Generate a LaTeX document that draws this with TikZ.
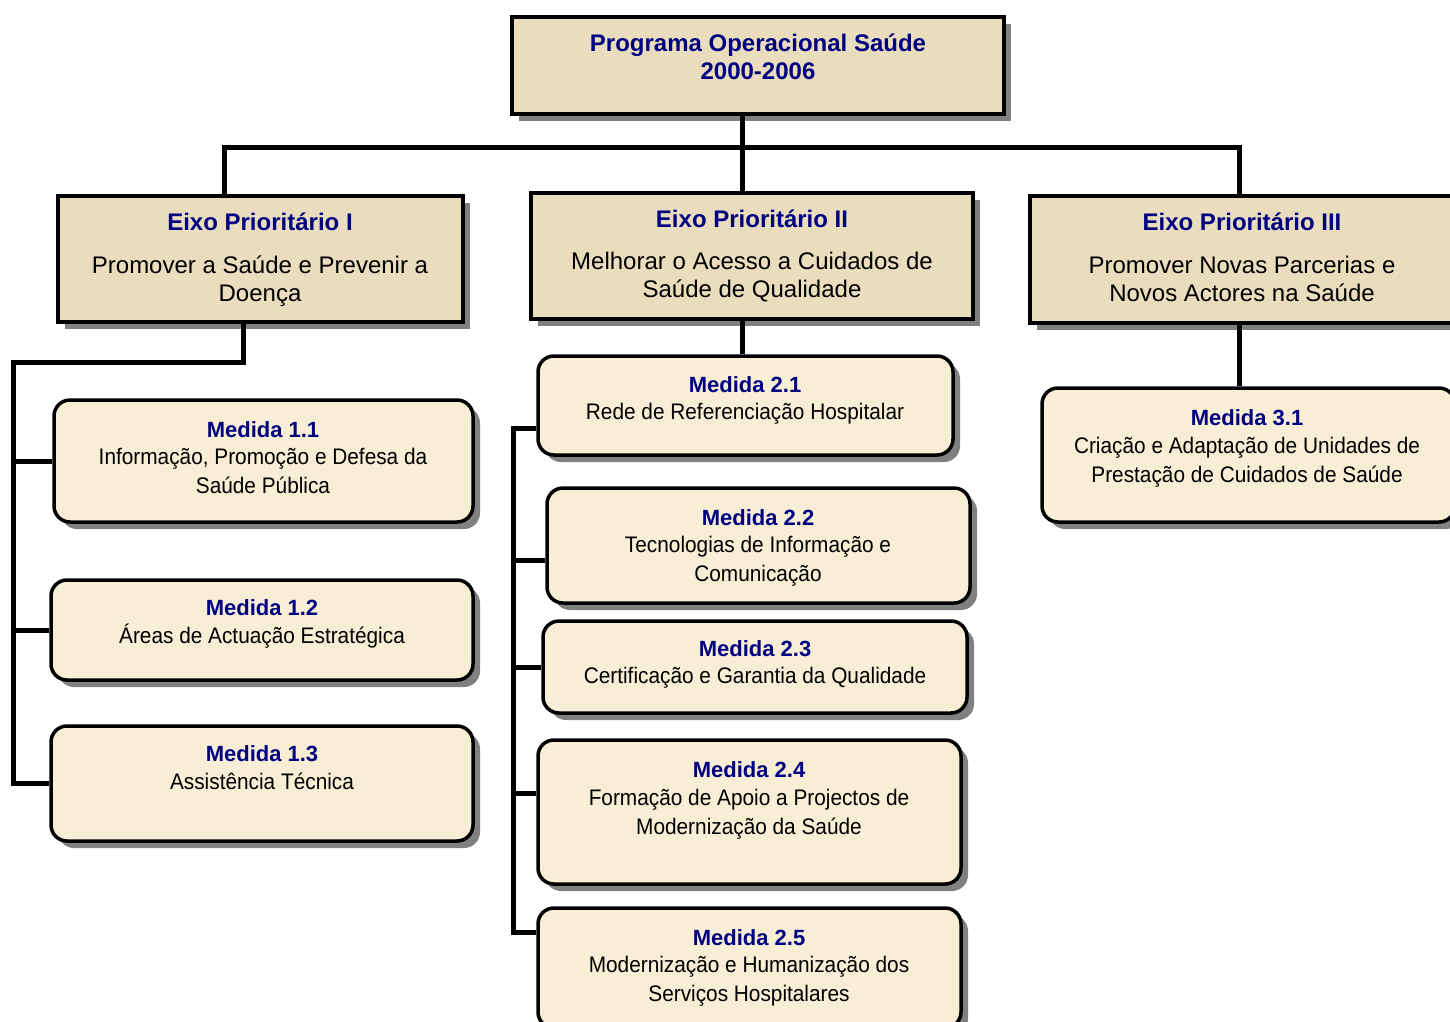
\documentclass[tikz,border=0pt]{standalone}
\usepackage{fontspec}
\setmainfont{Liberation Sans}
\newfontfamily\narrowf[FakeStretch=0.925]{Liberation Sans}
\usetikzlibrary{shadows}
\definecolor{navy}{RGB}{0,0,128}
\definecolor{parch}{RGB}{234,221,189}
\definecolor{parchl}{RGB}{248,238,214}
\begin{document}
\begin{tikzpicture}[x=1pt,y=-1pt,
  ebox/.style={draw, line width=3.5pt, fill=parch, inner sep=0pt,
    drop shadow={shadow xshift=7pt, shadow yshift=-7pt, fill=black!50, opacity=1}},
  mbox/.style={ebox, fill=parchl, rounded corners=16pt},
  conn/.style={line width=5pt},
  ttl/.style={font=\bfseries\fontsize{24}{28}\selectfont, text=navy, align=center, inner sep=0pt, anchor=base},
  ebody/.style={font=\fontsize{24}{28}\selectfont, align=center, inner sep=0pt, anchor=base},
  mtl/.style={font=\bfseries\fontsize{22}{28}\selectfont, text=navy, inner sep=0pt, anchor=base},
  mbody/.style={font=\narrowf\fontsize{22.5}{28.5}\selectfont, align=center, inner sep=0pt, anchor=base}]
\useasboundingbox[fill=white] (0,0) rectangle (1450,1021);

% junction coordinates
\coordinate (j0) at (742,147);
\coordinate (jl) at (224,147);
\coordinate (jr) at (1239,147);
\coordinate (k1) at (243,362);
\coordinate (k1l) at (13,362);
\coordinate (b21) at (513,428);
\coordinate (b22) at (513,560);
\coordinate (b23) at (513,667);
\coordinate (b24) at (513,793);
\coordinate (b25) at (513,932);

% boxes
\node[ebox, minimum width=492pt, minimum height=97pt] (top) at (758,65.5) {};
\node[ebox, minimum width=405pt, minimum height=126pt] (e1) at (260.5,259) {};
\node[ebox, minimum width=442pt, minimum height=126pt] (e2) at (752,256) {};
\node[ebox, minimum width=425pt, minimum height=127pt] (e3) at (1242.5,259.5) {};

\node[mbox, minimum width=419pt, minimum height=122pt] (m11) at (263.5,461) {};
\node[mbox, minimum width=422pt, minimum height=100pt] (m12) at (262,630) {};
\node[mbox, minimum width=422pt, minimum height=115pt] (m13) at (262,783.5) {};
\node[mbox, minimum width=415pt, minimum height=99pt] (m21) at (745.5,405.5) {};
\node[mbox, minimum width=423pt, minimum height=115pt] (m22) at (758.5,545.5) {};
\node[mbox, minimum width=424pt, minimum height=92pt] (m23) at (755,667) {};
\node[mbox, minimum width=423pt, minimum height=144pt] (m24) at (749.5,812) {};
\node[mbox, minimum width=423pt, minimum height=120pt] (m25) at (749.5,968) {};
\node[mbox, minimum width=413pt, minimum height=134pt] (m31) at (1248.5,455) {};

% connectors
\draw[conn] (top.south -| j0) -- (j0);
\draw[conn] (e1.north -| jl) -- (jl) -- (jr) -- (e3.north -| jr);
\draw[conn] (j0) -- (e2.north -| j0);
\draw[conn] (e1.south -| k1) -- (k1) -- (k1l) -- (m13.west -| k1l) -- (m13.west);
\draw[conn] (m11.west -| k1l) -- (m11.west);
\draw[conn] (m12.west -| k1l) -- (m12.west);
\draw[conn] (e2.south -| j0) -- (m21.north -| j0);
\draw[conn] (m21.west |- b21) -- (b21) -- (b25) -- (m25.west |- b25);
\draw[conn] (b22) -- (m22.west |- b22);
\draw[conn] (b23) -- (m23.west |- b23);
\draw[conn] (b24) -- (m24.west |- b24);
\draw[conn] (e3.south -| jr) -- (m31.north -| jr);

% texts (multi-line nodes: base = last line)
\node[ttl] (topt) at (758,79) {Programa Operacional Saúde\\2000-2006};
\node[ttl] (e1t) at (260,230) {Eixo Prioritário I};
\node[ebody] (e1b) at (260,301) {Promover a Saúde e Prevenir a\\Doença};
\node[ttl] (e2t) at (752,227) {Eixo Prioritário II};
\node[ebody] (e2b) at (752,297) {Melhorar o Acesso a Cuidados de\\Saúde de Qualidade};
\node[ttl] (e3t) at (1242,230) {Eixo Prioritário III};
\node[ebody] (e3b) at (1242,301) {Promover Novas Parcerias e\\Novos Actores na Saúde};

\node[mtl] (m11t) at (263,437) {Medida 1.1};
\node[mbody] (m11b) at (263,493) {Informação, Promoção e Defesa da\\Saúde Pública};
\node[mtl] (m12t) at (262,615) {Medida 1.2};
\node[mbody] (m12b) at (262,643) {Áreas de Actuação Estratégica};
\node[mtl] (m13t) at (262,761) {Medida 1.3};
\node[mbody] (m13b) at (262,789) {Assistência Técnica};
\node[mtl] (m21t) at (745,392) {Medida 2.1};
\node[mbody] (m21b) at (745,419) {Rede de Referenciação Hospitalar};
\node[mtl] (m22t) at (758,525) {Medida 2.2};
\node[mbody] (m22b) at (758,581) {Tecnologias de Informação e\\Comunicação};
\node[mtl] (m23t) at (755,656) {Medida 2.3};
\node[mbody] (m23b) at (755,683) {Certificação e Garantia da Qualidade};
\node[mtl] (m24t) at (749,777) {Medida 2.4};
\node[mbody] (m24b) at (749,834) {Formação de Apoio a Projectos de\\Modernização da Saúde};
\node[mtl] (m25t) at (749,945) {Medida 2.5};
\node[mbody] (m25b) at (749,1001) {Modernização e Humanização dos\\Serviços Hospitalares};
\node[mtl] (m31t) at (1247,425) {Medida 3.1};
\node[mbody] (m31b) at (1247,482) {Criação e Adaptação de Unidades de\\Prestação de Cuidados de Saúde};
\end{tikzpicture}
\end{document}
